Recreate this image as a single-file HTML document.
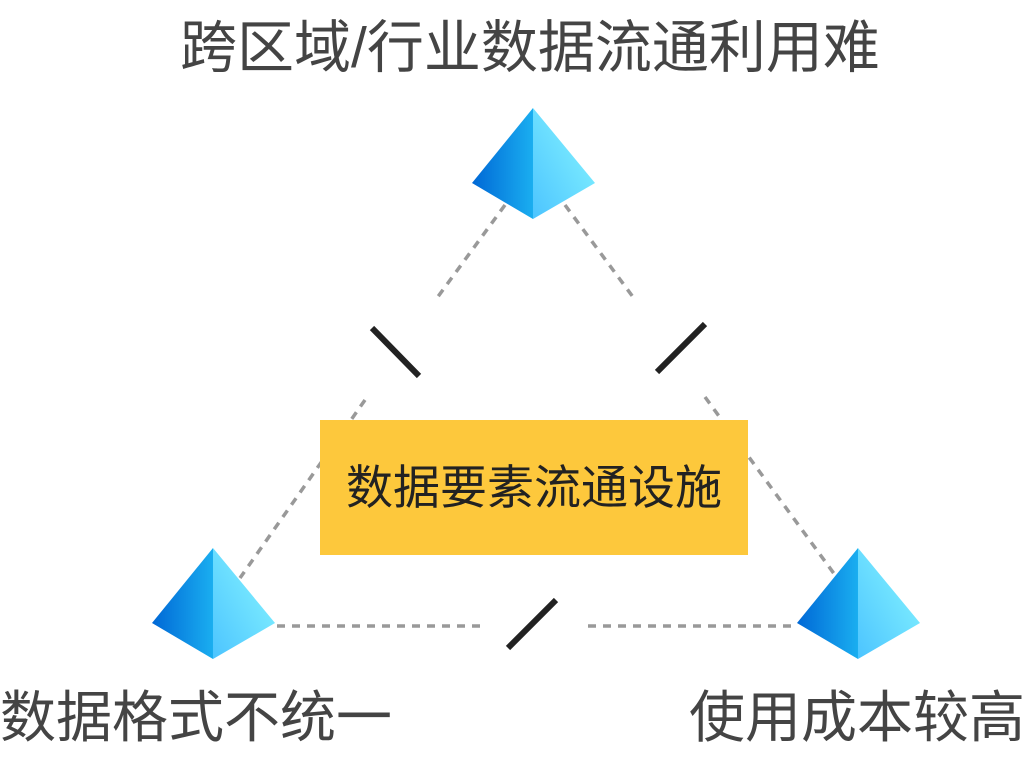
<!DOCTYPE html>
<html><head><meta charset="utf-8"><style>
body{margin:0;width:1024px;height:768px;background:#fff;position:relative;overflow:hidden;font-family:"Liberation Sans","Noto Sans CJK SC",sans-serif}
.t{position:absolute;color:#444;font-size:56px;white-space:nowrap;line-height:1}
</style></head><body>
<svg width="1024" height="768" style="position:absolute;left:0;top:0">
<defs>
<linearGradient id="gl" x1="0" y1="0" x2="1" y2="0"><stop offset="0" stop-color="#0068d6"/><stop offset="1" stop-color="#1aaef0"/></linearGradient>
<linearGradient id="gr" x1="0" y1="1" x2="1" y2="0"><stop offset="0" stop-color="#4cc4ff"/><stop offset="1" stop-color="#8af8ff"/></linearGradient>
<g id="p"><polygon points="0,0 -61,75 0,111" fill="url(#gl)"/><polygon points="0,0 62,75 0,111" fill="url(#gr)"/></g>
</defs>
<g stroke="#999" stroke-width="3.5" stroke-dasharray="8,7" fill="none">
<line x1="505" y1="205" x2="437" y2="298"/><line x1="365" y1="400" x2="240" y2="578"/>
<line x1="565" y1="205" x2="633" y2="297"/><line x1="705" y1="397" x2="835" y2="575"/>
<line x1="277" y1="626" x2="485" y2="626"/><line x1="588" y1="626" x2="795" y2="626"/>
</g>
<g stroke="#222" stroke-width="6">
<line x1="372" y1="328" x2="419" y2="376"/><line x1="705" y1="324" x2="657" y2="372"/><line x1="556" y1="600" x2="508" y2="648"/>
</g>
<use href="#p" x="533" y="108"/><use href="#p" x="213" y="548"/><use href="#p" x="858" y="548"/>
</svg>
<div style="position:absolute;left:320px;top:420px;width:428px;height:135px;background:#fdc83c;color:#222;font-size:47px;display:flex;align-items:center;justify-content:center;line-height:1">数据要素流通设施</div>
<div class="t" style="left:180px;top:20px;font-size:57px">跨区域/行业数据流通利用难</div>
<div class="t" style="left:0px;top:690px">数据格式不统一</div>
<div class="t" style="left:689px;top:690px">使用成本较高</div>
</body></html>
